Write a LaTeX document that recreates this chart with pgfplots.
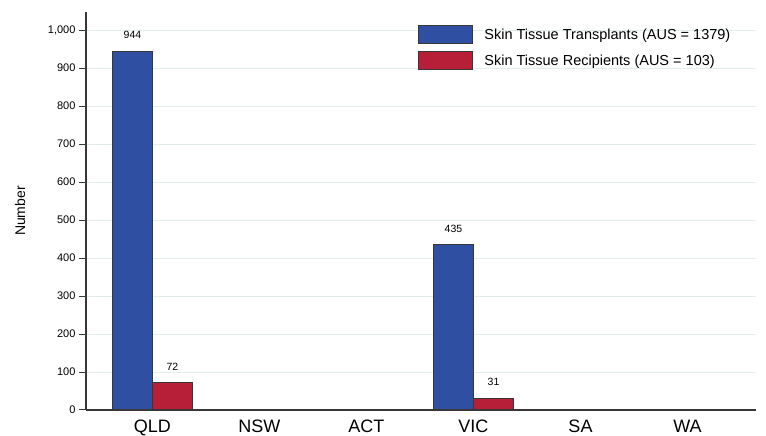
\documentclass[border=0pt]{standalone}
\usepackage{fontspec}
\setmainfont{Liberation Sans}
\usepackage{pgfplots}
\pgfplotsset{compat=1.18}
\definecolor{tblue}{RGB}{47,79,162}
\definecolor{tred}{RGB}{183,30,56}
\definecolor{edgec}{RGB}{55,55,55}
\definecolor{gridc}{RGB}{226,238,238}
\begin{document}
\begin{tikzpicture}
\useasboundingbox (-86pt,-26pt) rectangle (680pt,410pt);
\begin{axis}[
 scale only axis, width=670pt, height=398pt,
 xmin=-0.621, xmax=5.64, ymin=0, ymax=1048,
 axis x line*=bottom, axis y line*=left,
 axis line style={edgec, line width=1.2pt},
 xtick={0,1,2,3,4,5}, xticklabels={QLD,NSW,ACT,VIC,SA,WA},
 x tick style={draw=none},
 x tick label style={font=\fontsize{18}{20}\selectfont, inner sep=0pt, anchor=north, yshift=-3pt},
 ytick={0,100,200,300,400,500,600,700,800,900,1000},
 y tick style={edgec, line width=1pt},
 tick align=outside, major tick length=7pt,
 y tick label style={font=\fontsize{11}{13}\selectfont},
 /pgf/number format/assume math mode=true,
 /pgf/number format/1000 sep={,},
 ymajorgrids, major grid style={gridc, line width=0.8pt},
 ylabel={Number},
 ylabel style={at={(axis description cs:-0.0985,0.5)}, anchor=center, font=\fontsize{14}{16}\selectfont},
 bar width=0.374,
 nodes near coords,
 nodes near coords style={font=\fontsize{10.5}{12}\selectfont, anchor=south, inner sep=0pt, yshift=12pt, text=black},
 legend style={draw=none, fill=none, inner sep=0pt, row sep=6.5pt,
   at={(axis description cs:0.4955,0.9673)}, anchor=north west,
   nodes={inner sep=0pt, font=\fontsize{14.5}{16}\selectfont}},
 legend cell align=left,
 legend image code/.code={\draw[#1, line width=1.2pt] (0pt,-9pt) rectangle (54pt,9pt); \path (65pt,0pt);},
]
\addplot[ybar, bar shift=0pt, fill=tblue, draw=edgec, line width=1.2pt]
  coordinates {(-0.187,944) (2.813,435)};
\addlegendentry{Skin Tissue Transplants (AUS = 1379)}
\addplot[ybar, bar shift=0pt, fill=tred, draw=edgec, line width=1.2pt]
  coordinates {(0.187,72) (3.187,31)};
\addlegendentry{Skin Tissue Recipients (AUS = 103)}
\end{axis}
\end{tikzpicture}
\end{document}
